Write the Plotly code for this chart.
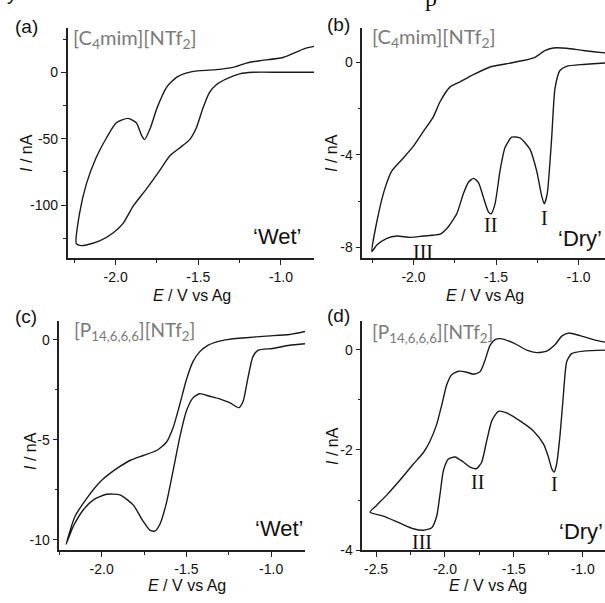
import plotly.graph_objects as go

W, H = 605, 603

# ---------------- data ----------------
# (a) [C4mim][NTf2], 'Wet'
Ea = [-0.80, -0.857, -0.988, -1.129, -1.21, -1.29, -1.39, -1.49, -1.57, -1.63, -1.69, -1.75, -1.79, -1.825,
      -1.845, -1.875, -1.925, -1.996, -2.056, -2.117, -2.177, -2.218, -2.238,
      -2.21, -2.177, -2.097, -2.016, -1.956, -1.895, -1.815, -1.734, -1.673, -1.613, -1.552, -1.512,
      -1.472, -1.431, -1.391, -1.33, -1.25, -1.17, -1.0, -0.857, -0.80]
Ia = [19.5, 17.8, 11.1, 8.7, 6.9, 3.7, 2.0, 1.2, -0.5, -3.7, -11, -27, -42, -50.7,
      -47, -38, -34.7, -38, -49.5, -64, -84, -106, -129,
      -130.5, -130, -127, -121, -114, -101, -88, -74, -63, -57, -50.7, -42,
      -27, -15, -9.4, -5, -1.2, 0, 0, 0, 0]

# (b) [C4mim][NTf2], 'Dry'
Eb = [-0.80, -0.841, -0.972, -1.073, -1.153, -1.204, -1.264, -1.335, -1.435, -1.536, -1.637, -1.718, -1.778,
      -1.839, -1.879, -1.94, -2.0, -2.06, -2.131, -2.171, -2.212, -2.252,
      -2.222, -2.161, -2.101, -2.02, -1.94, -1.839, -1.798, -1.738, -1.698, -1.667, -1.637, -1.607,
      -1.577, -1.546, -1.53, -1.506, -1.476, -1.446, -1.405, -1.355, -1.294, -1.254, -1.224, -1.208,
      -1.19, -1.163, -1.143, -1.113, -1.073, -0.972, -0.841, -0.80]
Ib = [0.37, 0.40, 0.50, 0.60, 0.61, 0.50, 0.21, 0.07, -0.07, -0.21, -0.54, -0.85, -1.07,
      -1.71, -2.35, -2.99, -3.63, -4.13, -4.70, -5.41, -6.55, -8.18,
      -7.90, -7.61, -7.51, -7.57, -7.51, -7.43, -7.19, -6.55, -5.69, -5.19, -5.02, -5.19,
      -5.83, -6.47, -6.55, -6.12, -4.70, -3.70, -3.24, -3.27, -3.77, -4.70, -5.76, -6.12,
      -5.69, -3.27, -1.14, -0.36, -0.18, -0.10, -0.04, -0.03]

# (c) [P14,6,6,6][NTf2], 'Wet'
Ec = [-0.80, -0.892, -1.029, -1.147, -1.225, -1.304, -1.373, -1.422, -1.461, -1.50, -1.539, -1.578, -1.618,
      -1.676, -1.755, -1.833, -1.912, -2.01, -2.088, -2.157, -2.21,
      -2.167, -2.108, -2.049, -1.971, -1.892, -1.814, -1.755, -1.716, -1.686, -1.657, -1.618, -1.578,
      -1.539, -1.50, -1.461, -1.422, -1.363, -1.30, -1.245, -1.19, -1.165, -1.137, -1.108, -1.078,
      -0.99, -0.892, -0.80]
Ic = [0.41, 0.26, 0.18, 0.10, 0.05, -0.07, -0.28, -0.61, -1.10, -2.0, -3.24, -4.39, -5.13,
      -5.54, -5.79, -6.04, -6.45, -7.11, -7.93, -8.83, -10.23,
      -9.33, -8.50, -8.01, -7.73, -7.76, -8.26, -9.08, -9.52, -9.57, -9.24, -8.17, -6.53,
      -4.88, -3.57, -2.91, -2.70, -2.83, -2.97, -3.15, -3.40, -3.08, -1.92, -0.86, -0.53,
      -0.44, -0.28, -0.20]

# (d) [P14,6,6,6][NTf2], 'Dry'
Ed = [-0.80, -0.838, -0.922, -1.019, -1.104, -1.152, -1.20, -1.261, -1.334, -1.406, -1.50, -1.60, -1.636,
      -1.673, -1.709, -1.745, -1.794, -1.842, -1.902, -1.951, -1.987, -2.023, -2.06, -2.108, -2.156,
      -2.229, -2.326, -2.423, -2.495, -2.544,
      -2.447, -2.326, -2.229, -2.156, -2.096, -2.06, -2.035, -2.011, -1.975, -1.927, -1.866, -1.818,
      -1.769, -1.733, -1.697, -1.66, -1.612, -1.552, -1.455, -1.358, -1.285, -1.249, -1.225, -1.208,
      -1.189, -1.164, -1.14, -1.116, -1.08, -0.995, -0.838, -0.80]
Id = [0.13, 0.15, 0.20, 0.28, 0.33, 0.27, 0.10, -0.03, -0.06, -0.01, 0.13, 0.22, 0.20,
      0.085, -0.21, -0.44, -0.49, -0.45, -0.43, -0.50, -0.70, -1.10, -1.49, -1.82, -2.05,
      -2.28, -2.60, -2.90, -3.10, -3.24,
      -3.32, -3.46, -3.57, -3.60, -3.55, -3.32, -2.87, -2.41, -2.18, -2.14, -2.24, -2.34,
      -2.37, -2.24, -1.82, -1.42, -1.23, -1.26, -1.42, -1.62, -1.88, -2.14, -2.37, -2.44,
      -2.28, -1.69, -0.90, -0.24, -0.08, -0.03, -0.01, -0.01]

# tick values / labels
x_ticks_abc = [-2.0, -1.5, -1.0]
x_ticks_d = [-2.5, -2.0, -1.5, -1.0]
y_ticks = [[0, -50, -100], [0, -4, -8], [0, -5, -10], [0, -2, -4]]

panel_letters = ["(a)", "(b)", "(c)", "(d)"]
compounds = ["[C<sub>4</sub>mim][NTf<sub>2</sub>]", "[C<sub>4</sub>mim][NTf<sub>2</sub>]",
             "[P<sub>14,6,6,6</sub>][NTf<sub>2</sub>]", "[P<sub>14,6,6,6</sub>][NTf<sub>2</sub>]"]
conditions = ["\u2018Wet\u2019", "\u2018Dry\u2019", "\u2018Wet\u2019", "\u2018Dry\u2019"]
xtitle = "<i>E</i> / V vs Ag"
ytitle = "<i>I</i> / nA"
peak_labels = ["I", "II", "III"]
peak_pos_b_E = [-1.205, -1.535, -1.94]
peak_pos_b_I = [-6.72, -7.05, -8.2]
peak_pos_d_E = [-1.205, -1.765, -2.17]
peak_pos_d_I = [-2.68, -2.63, -3.83]


def hy(v, fmt):
    return (fmt % v).replace("\u2212", "-")

# ---------------- layout helpers ----------------
def px(x):
    return x / W

def py(y):
    return 1 - y / H

FONT = "Liberation Sans, Arial, sans-serif"
LINE = "#1a1a1a"

fig = go.Figure()
data = [(Ea, Ia), (Eb, Ib), (Ec, Ic), (Ed, Id)]
for k, (e, i) in enumerate(data):
    suf = "" if k == 0 else str(k + 1)
    fig.add_trace(go.Scatter(x=e, y=i, mode="lines", xaxis="x" + suf, yaxis="y" + suf,
                             line=dict(color=LINE, width=1.4, shape="spline", smoothing=0.6),
                             showlegend=False, hoverinfo="skip"))

# panel geometry in pixels: (left, right, top, bottom)
geo = [(67.7, 314.0, 28.0, 261.7),
       (362.3, 605.0, 28.0, 261.7),
       (59.3, 305.0, 325.0, 557.7),
       (362.3, 605.0, 325.0, 557.7)]
xr = [[-2.29, -0.80], [-2.31, -0.84], [-2.25, -0.80], [-2.60, -0.838]]
yr = [[-140, 33.6], [-8.47, 1.49], [-10.53, 0.95], [-4.0, 0.577]]
ydt = [50, 4, 5, 2]

layout = dict(width=W, height=H, margin=dict(l=0, r=0, t=0, b=0),
              paper_bgcolor="white", plot_bgcolor="white", showlegend=False)
for k in range(4):
    l, r, t, b = geo[k]
    suf = "" if k == 0 else str(k + 1)
    xt = x_ticks_d if k == 3 else x_ticks_abc
    common = dict(showline=True, linecolor="#222", linewidth=1.5, ticks="outside", ticklen=5,
                  tickwidth=1, tickcolor="#222", showgrid=False, zeroline=False, mirror=False,
                  tickfont=dict(family=FONT, size=14, color="#111"), fixedrange=True)
    layout["xaxis" + suf] = dict(common, domain=[px(l), px(r)], range=xr[k], anchor="y" + suf,
                                 tickmode="array", tickvals=xt, ticktext=[hy(v, "%.1f") for v in xt],
                                 minor=dict(ticks="outside", ticklen=3, tickcolor="#222", dtick=0.25, tick0=-2.0))
    layout["yaxis" + suf] = dict(common, domain=[py(b), py(t)], range=yr[k], anchor="x" + suf,
                                 tickmode="array", tickvals=y_ticks[k],
                                 ticktext=[hy(v, "%d") for v in y_ticks[k]],
                                 minor=dict(ticks="outside", ticklen=3, tickcolor="#222",
                                            tickmode="linear", dtick=ydt[k] / 2, tick0=0))
fig.update_layout(**layout)

ann = []
# panel letters
letter_pos = [(13, 27), (325, 25), (13, 321), (325, 320)]
for k, (x, y) in enumerate(letter_pos):
    ann.append(dict(text=panel_letters[k], x=px(x), y=py(y), xref="paper", yref="paper",
                    xanchor="left", yanchor="middle", showarrow=False,
                    font=dict(family=FONT, size=19, color="#111")))
# compound labels (gray)
comp_pos = [(71, 39), (370, 38), (72, 335), (370, 337)]
comp_size = [20, 20, 19, 19]
for k, (x, y) in enumerate(comp_pos):
    ann.append(dict(text=compounds[k], x=px(x), y=py(y), xref="paper", yref="paper",
                    xanchor="left", yanchor="middle", showarrow=False,
                    font=dict(family="Lato, sans-serif", size=comp_size[k], color="#7a7a7a")))
# conditions
cond_pos = [(304, 240), (604, 242), (306, 536), (605, 539)]
for k, (x, y) in enumerate(cond_pos):
    ann.append(dict(text=conditions[k], x=px(x), y=py(y), xref="paper", yref="paper",
                    xanchor="right", yanchor="middle", showarrow=False,
                    font=dict(family=FONT, size=22, color="#111")))
# axis titles
xt_pos = [(192, 299), (485, 299), (187, 593), (488, 593)]
for k, (x, y) in enumerate(xt_pos):
    ann.append(dict(text=xtitle, x=px(x), y=py(y), xref="paper", yref="paper",
                    xanchor="center", yanchor="middle", showarrow=False,
                    font=dict(family=FONT, size=16, color="#111")))
yt_pos = [(27, 155), (332, 155), (31, 457), (332, 452)]
for k, (x, y) in enumerate(yt_pos):
    ann.append(dict(text=ytitle, x=px(x), y=py(y), xref="paper", yref="paper",
                    xanchor="center", yanchor="middle", showarrow=False, textangle=-90,
                    font=dict(family=FONT, size=16, color="#111")))
# peak labels
SERIF = "Liberation Serif, Times New Roman, serif"
for t, e, i in zip(peak_labels, peak_pos_b_E, peak_pos_b_I):
    ann.append(dict(text=t, x=e, y=i, xref="x2", yref="y2", showarrow=False,
                    font=dict(family=SERIF, size=20, color="#111")))
for t, e, i in zip(peak_labels, peak_pos_d_E, peak_pos_d_I):
    ann.append(dict(text=t, x=e, y=i, xref="x4", yref="y4", showarrow=False,
                    font=dict(family=SERIF, size=20, color="#111")))
# fragments of caption text cut by the top edge
ann.append(dict(text="y", x=px(12), y=py(6), xref="paper", yref="paper", xanchor="center",
                yanchor="bottom", showarrow=False, font=dict(family=FONT, size=20, color="#111")))
ann.append(dict(text="p", x=px(431), y=py(13), xref="paper", yref="paper", xanchor="center",
                yanchor="bottom", showarrow=False, font=dict(family=SERIF, size=24, color="#111")))
fig.update_layout(annotations=ann)

fig.write_html("out.html", config={"displayModeBar": False},
               post_script="document.body.style.margin='0';")
